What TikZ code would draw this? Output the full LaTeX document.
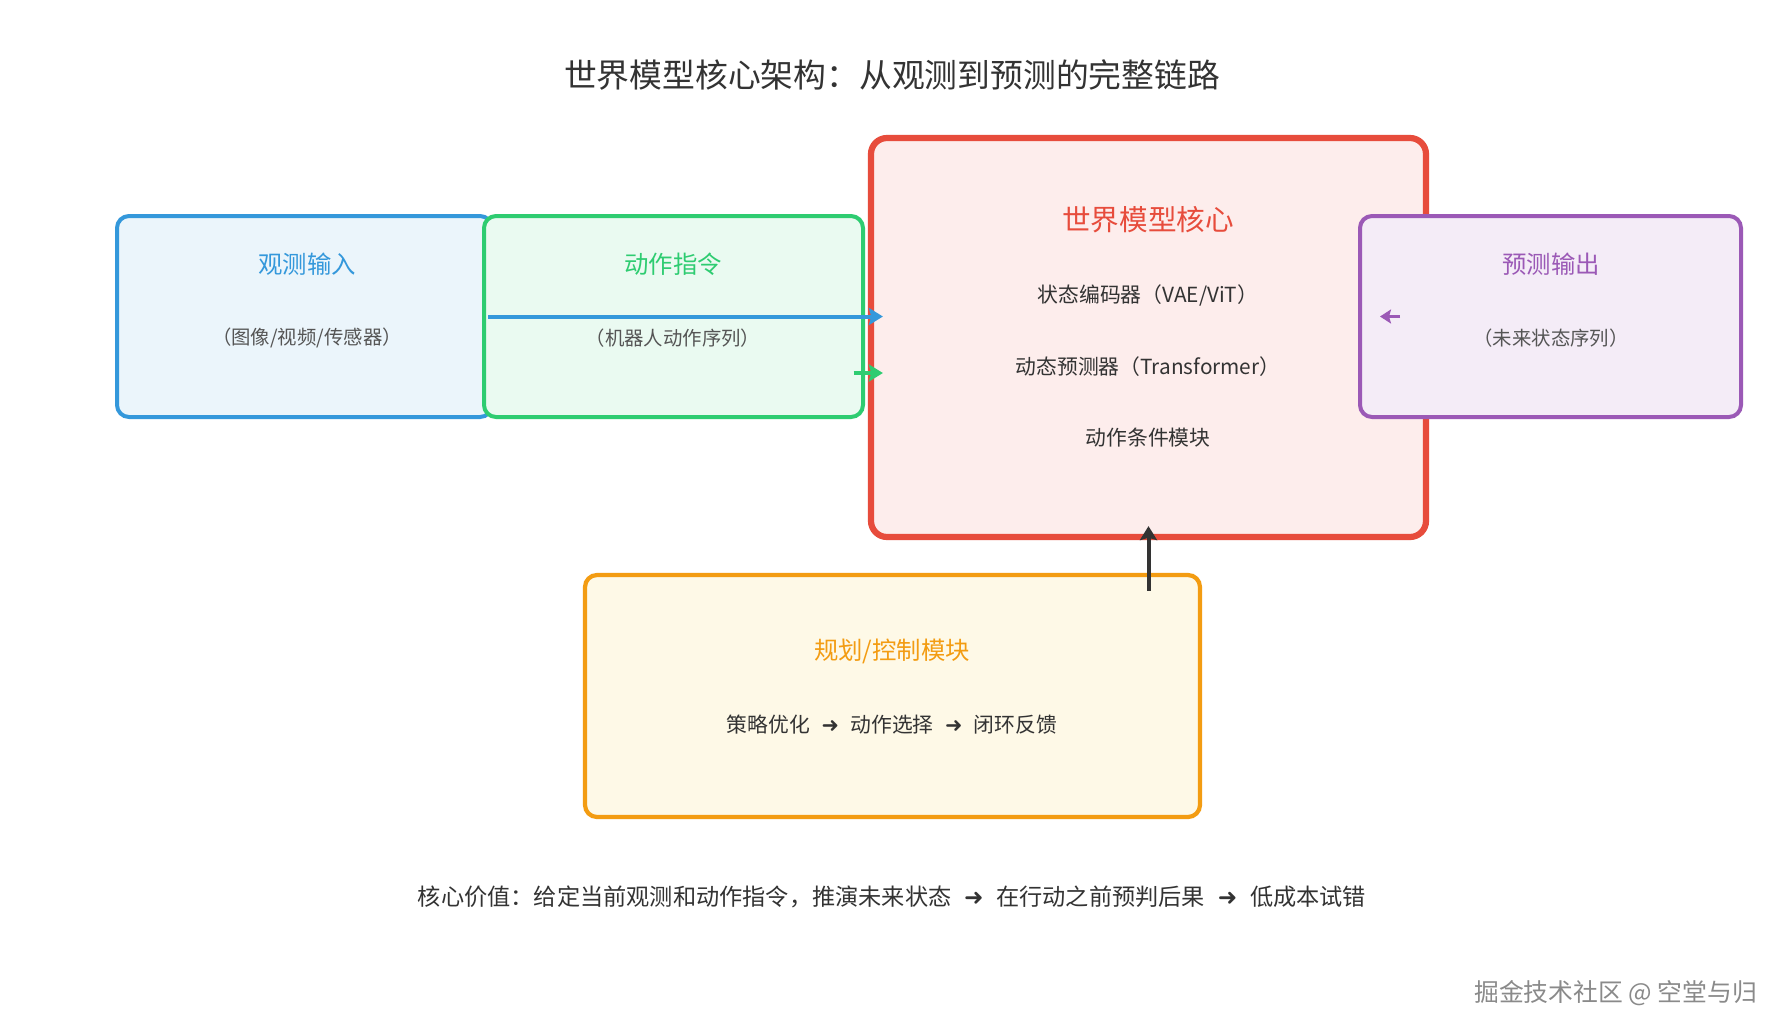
\documentclass[tikz,border=0pt]{standalone}
\usepackage{fontspec}
\setmainfont{Noto Sans CJK SC}
\newfontfamily\arrowsym{DejaVu Sans}
\usepackage{xcolor}
\usetikzlibrary{arrows.meta,positioning,calc}

\definecolor{obsblue}{HTML}{3498DB}
\definecolor{obsfill}{HTML}{EBF5FB}
\definecolor{actgreen}{HTML}{2ECC71}
\definecolor{actfill}{HTML}{EAFAF1}
\definecolor{corered}{HTML}{E74C3C}
\definecolor{corefill}{HTML}{FDEDEC}
\definecolor{predpurple}{HTML}{9B59B6}
\definecolor{predfill}{HTML}{F4ECF7}
\definecolor{planorange}{HTML}{F39C12}
\definecolor{planfill}{HTML}{FEF9E7}
\definecolor{darktext}{HTML}{333333}
\definecolor{notegray}{HTML}{555555}
\definecolor{markgray}{HTML}{8A8A8A}

\newcommand{\nextstep}{\hspace{0.55em}{\arrowsym ➜}\hspace{0.55em}}

\begin{document}
\begin{tikzpicture}[
    x=0.5pt, y=-0.5pt,
    box/.style={rectangle, rounded corners=6pt, line width=2pt, inner sep=0pt},
    obsbox/.style={box, draw=obsblue, fill=obsfill, minimum width=187.5pt, minimum height=100.5pt},
    actbox/.style={box, draw=actgreen, fill=actfill, minimum width=189.5pt, minimum height=100.5pt},
    corebox/.style={box, draw=corered, fill=corefill, line width=3.1pt, rounded corners=8pt, minimum width=277.5pt, minimum height=199.5pt},
    predbox/.style={box, draw=predpurple, fill=predfill, minimum width=190.5pt, minimum height=100.5pt},
    planbox/.style={box, draw=planorange, fill=planfill, line width=2.1pt, minimum width=307.5pt, minimum height=121pt},
    head/.style={font=\fontsize{12.2}{14}\selectfont},
    note/.style={font=\fontsize{9.7}{11}\selectfont, text=notegray},
    part/.style={font=\fontsize{10.4}{12}\selectfont, text=darktext},
    arrow/.style={-{Stealth[length=7pt,width=8.5pt,inset=1.2pt]}, line width=2pt}
]

% page
\fill [white] (0,0) rectangle (1785,1035);
\useasboundingbox (0,0) rectangle (1785,1035);

% title
\node [font=\fontsize{16.4}{19}\selectfont, text=darktext] (title) at (892,75) {世界模型核心架构：从观测到预测的完整链路};

% boxes
\node [obsbox] (obs) at (304.5,316.5) {};
\node [actbox] (act) at (673.5,316.5) {};
\node [corebox] (core) at (1148.5,337.5) {};
\node [predbox] (pred) at (1550.5,316.5) {};
\node [planbox] (plan) at (892.5,696) {};

% observation input
\node [head, text=obsblue] (obstitle) at (307,264) {观测输入};
\node [note] (obsnote) at (307,338) {（图像/视频/传感器）};

% action command
\node [head, text=actgreen] (acttitle) at (673,264) {动作指令};
\node [note] (actnote) at (673,338) {（机器人动作序列）};

% world model core
\node [font=\fontsize{14.3}{17}\selectfont, text=corered] (coretitle) at (1148,220) {世界模型核心};
\node [part] (encoder) at (1148,295) {状态编码器（VAE/ViT）};
\node [part] (dynamics) at (1148,367) {动态预测器（Transformer）};
\node [part] (cond) at (1148,438) {动作条件模块};

% prediction output
\node [head, text=predpurple] (predtitle) at (1551,264) {预测输出};
\node [note] (prednote) at (1551,338) {（未来状态序列）};

% planning / control
\node [head, text=planorange] (plantitle) at (892,651) {规划/控制模块};
\node [part] (planflow) at (892,725) {策略优化\nextstep 动作选择\nextstep 闭环反馈};

% arrows
\draw [arrow, obsblue] ([xshift=-3pt]obs.east) -- ([xshift=7.5pt]core.west |- obs.east);
\draw [arrow, actgreen] ([xshift=-5.75pt,yshift=-28.25pt]act.east) -- ([xshift=7.5pt,yshift=-28.25pt]core.west |- act.east);
\draw [arrow, predpurple, -{Stealth[length=5.5pt,width=7pt,inset=1pt]}, line width=1.9pt] ([xshift=21pt]pred.west) -- ([xshift=11pt]pred.west);
\draw [arrow, darktext] ([yshift=-9pt]core.south |- plan.north) -- ([yshift=7pt]core.south);

% summary and mark
\node [font=\fontsize{11.6}{14}\selectfont, text=darktext] (summary) at (892,897) {核心价值：给定当前观测和动作指令，推演未来状态\nextstep 在行动之前预判后果\nextstep 低成本试错};
\node [anchor=east, font=\fontsize{12.4}{15}\selectfont, text=markgray] (mark) at (1764,993) {掘金技术社区 @ 空堂与归};

\end{tikzpicture}
\end{document}
